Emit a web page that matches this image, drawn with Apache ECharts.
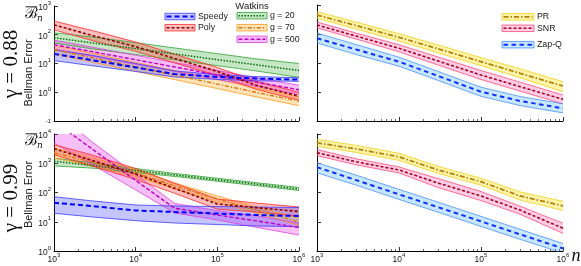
<!DOCTYPE html>
<html><head><meta charset="utf-8">
<script src="https://cdn.jsdelivr.net/npm/echarts@6/dist/echarts.min.js"></script>
<style>html,body{margin:0;padding:0;background:#fff}#c{width:581px;height:266px}</style>
</head><body><div id="c"></div>
<script>
// sample sizes n
const N = [1000, 3000, 10000, 30000, 100000, 300000, 1000000];
const xMinorTicks = [2e3,3e3,4e3,5e3,6e3,7e3,8e3,9e3,2e4,3e4,4e4,5e4,6e4,7e4,8e4,9e4,2e5,3e5,4e5,5e5,6e5,7e5,8e5,9e5];
const rowLabels = ['γ = 0.88', 'γ = 0.99'];
const yTitle = 'Bellman Error';

// gamma = 0.88, left panel
const tlSpeedyMean = [21.6, 12.9, 7.3, 4.3, 3.4, 3.0, 2.74];
const tlSpeedyLo   = [12.6, 8.3, 5.3, 3.4, 2.8, 2.5, 2.4];
const tlSpeedyHi   = [30, 19, 10, 5.5, 4.1, 3.5, 3.2];
const tlPolyMean = [221, 92.5, 38.6, 14.9, 5.3, 1.74, 0.73];
const tlPolyLo   = [148, 62, 26.5, 10.5, 3.8, 1.26, 0.53];
const tlPolyHi   = [300, 138, 56, 21, 7.3, 2.4, 1.0];
const tlG20Mean = [78.8, 51.8, 32.9, 21.6, 13.6, 9.0, 5.7];
const tlG20Lo   = [52, 32, 20.5, 13.4, 8.4, 5.5, 3.3];
const tlG20Hi   = [117, 83, 53, 34.8, 22, 14.5, 10];
const tlG70Mean = [30.4, 15.7, 7.6, 3.95, 1.92, 0.99, 0.49];
const tlG70Lo   = [21.3, 11, 5.3, 2.76, 1.34, 0.69, 0.34];
const tlG70Hi   = [43.5, 22.4, 10.9, 5.65, 2.75, 1.42, 0.70];
const tlG500Mean = [45.2, 25.5, 13.5, 7.6, 4.0, 2.26, 1.22];
const tlG500Lo   = [31.6, 17.8, 9.4, 5.3, 2.8, 1.58, 0.85];
const tlG500Hi   = [64.6, 36.5, 19.3, 10.9, 5.7, 3.2, 1.75];

// gamma = 0.88, right panel
const trPRMean = [452, 195, 77, 30.6, 11.1, 4.4, 1.61];
const trPRLo   = [348, 148, 58, 22.3, 8.1, 3.1, 1.02];
const trPRHi   = [590, 257, 102, 42, 15.3, 6.3, 2.27];
const trSNRMean = [205, 84.7, 32.1, 11.7, 3.86, 1.53, 0.56];
const trSNRLo   = [162, 66.7, 24.3, 8.5, 2.7, 1.07, 0.39];
const trSNRHi   = [258, 107.6, 42.4, 16.1, 5.5, 2.19, 0.79];
const trZapMean = [71, 29.2, 11.1, 3.56, 1.02, 0.49, 0.274];
const trZapLo   = [49, 19.6, 7.76, 2.5, 0.71, 0.34, 0.19];
const trZapHi   = [107, 43.4, 15.9, 5.1, 1.46, 0.70, 0.39];

// gamma = 0.99, left panel
const blSpeedyMean = [44.8, 34, 24.3, 21.5, 19.1, 17, 15.7];
const blSpeedyLo   = [19.5, 14.5, 10.9, 9.06, 8.05, 7.16, 6.78];
const blSpeedyHi   = [71.8, 51.2, 37.4, 34.5, 33.2, 31.9, 30.7];
const blPolyMean = [3140, 1220, 428, 139, 40.5, 30.5, 22.4];
const blPolyLo   = [1950, 790, 278, 94, 27, 21.4, 15.7];
const blPolyHi   = [4300, 1880, 660, 206, 60, 43.5, 32];
const blG20Mean = [1170, 830, 565, 399, 273, 193, 132];
const blG20Lo   = [810, 680, 483, 354, 242, 171, 117];
const blG20Hi   = [1500, 1010, 661, 449, 307, 217, 149];
const blG70Mean = [2240, 1100, 464, 169, 60, 25.2, 9.8];
const blG70Lo   = [1510, 803, 352, 133, 47.4, 19.9, 7.4];
const blG70Hi   = [3320, 1507, 611, 214, 76, 31.9, 12.9];
const blG500Mean = [27000, 2940, 258, 29, 17, 10.7, 6.3];
const blG500Lo   = [4900, 870, 123, 20, 11.5, 6.5, 3.5];
const blG500Hi   = [60000, 5100, 420, 42, 24, 16, 9];

// gamma = 0.99, right panel
const brPRMean = [5000, 3100, 1660, 590, 234, 76, 35];
const brPRLo   = [3800, 2350, 1260, 450, 178, 55, 24.5];
const brPRHi   = [6600, 4080, 2190, 780, 308, 105, 50];
const brSNRMean = [2300, 1120, 590, 210, 76, 25, 6.0];
const brSNRLo   = [1820, 885, 466, 147, 53, 18, 4.0];
const brSNRHi   = [2910, 1420, 747, 300, 108, 34, 8.9];
const brZapMean = [730, 265, 86, 31.4, 10.3, 3.7, 1.23];
const brZapLo   = [470, 179, 58, 21.2, 6.9, 2.5, 0.85];
const brZapHi   = [1050, 393, 128, 46.6, 15.3, 5.5, 1.8];

const FONT = 'Liberation Sans';
const TXT = '#1a1a1a';
const ST = {
  speedy: {fill:'rgba(40,40,255,0.27)', edge:'#3c3cff', mean:'#0000ff', w:2, dash:[5,3]},
  poly:   {fill:'rgba(255,40,40,0.30)', edge:'#ff2a2a', mean:'#8b0000', w:1.6, dash:[3,2]},
  g20:    {fill:'rgba(40,165,40,0.27)', edge:'#33a333', mean:'#0b6e0b', w:1.5, dash:[1.5,1.5]},
  g70:    {fill:'rgba(255,150,0,0.27)', edge:'#ff9a1a', mean:'#d97800', w:1.4, dash:[4,2,1.2,2]},
  g500:   {fill:'rgba(225,0,225,0.25)', edge:'#e040e0', mean:'#c000c0', w:1.4, dash:[4,2]},
  pr:     {fill:'rgba(255,228,40,0.40)', edge:'#f0d020', mean:'#b38209', w:1.8, dash:[5,2,1.5,2]},
  snr:    {fill:'rgba(255,90,175,0.30)', edge:'#ff4d7a', mean:'#a8001a', w:1.6, dash:[3,2]},
  zap:    {fill:'rgba(70,175,255,0.30)', edge:'#4d8fff', mean:'#1030ff', w:2, dash:[4.5,3.5]}
};

const grids = [
  {left:54, top:5, width:245, height:116},
  {left:317, top:5, width:246, height:116},
  {left:54, top:134, width:245, height:117},
  {left:317, top:134, width:246, height:117}
];
const yRanges = [[0.1,1000],[0.1,1000],[1,10000],[1,10000]];

const rich = {
  b: {fontSize:8.5, fontFamily:FONT, color:TXT, lineHeight:12, verticalAlign:'bottom'},
  s: {fontSize:6, fontFamily:FONT, color:TXT, lineHeight:6, verticalAlign:'top'}
};
function powLabel(v){
  const e = Math.round(Math.log10(v));
  if (e === -1) return '{s|-1}';
  return '{b|10}{s|' + e + '}';
}

const xAxis = [], yAxis = [];
for (let i = 0; i < 4; i++) {
  xAxis.push({
    type:'log', logBase:10, gridIndex:i, position:'bottom', min:1000, max:1000000,
    axisLine:{show:true, lineStyle:{color:'#000', width:1}},
    axisTick:{show:true, inside:true, length:4, lineStyle:{color:'#000', width:0.8}},
    axisLabel:{show: i >= 2, margin:1, formatter: powLabel, rich: rich},
    splitLine:{show:false}
  });
}
for (let i = 0; i < 4; i++) {
  xAxis.push({
    type:'log', logBase:10, gridIndex:i, position:'bottom', offset:0, min:1000, max:1000000,
    axisLine:{show:false},
    axisTick:{show:true, inside:true, length:2, customValues: xMinorTicks, lineStyle:{color:'#000', width:0.6}},
    axisLabel:{show:false},
    splitLine:{show:false}
  });
}
for (let i = 0; i < 4; i++) {
  yAxis.push({
    type:'log', logBase:10, gridIndex:i, position:'left', min:yRanges[i][0], max:yRanges[i][1],
    axisLine:{show:true, lineStyle:{color:'#000', width:1}},
    axisTick:{show:true, inside:true, length:4, lineStyle:{color:'#000', width:0.8}},
    axisLabel:{show: i % 2 === 0, margin:3, formatter: powLabel, rich: rich},
    splitLine:{show:false}
  });
}

const series = [];
function addSet(g, mean, lo, hi, st) {
  series.push({
    type:'custom', xAxisIndex:g, yAxisIndex:g, clip:true, z:1, silent:true,
    data: N.map((n,i)=>[n, lo[i], hi[i]]),
    renderItem: function(p, api){
      if (p.dataIndex !== 0) return null;
      const up = N.map((n,i)=>api.coord([n, hi[i]]));
      const dn = N.map((n,i)=>api.coord([n, lo[i]])).reverse();
      return {type:'polygon', shape:{points: up.concat(dn)}, style:{fill: st.fill}};
    }
  });
  [lo, hi].forEach(arr => series.push({
    type:'line', xAxisIndex:g, yAxisIndex:g, z:2, silent:true, symbol:'none', clip:true,
    data: N.map((n,i)=>[n, arr[i]]),
    lineStyle:{color: st.edge, width:0.8}
  }));
  series.push({
    type:'line', xAxisIndex:g, yAxisIndex:g, z:3, silent:true, symbol:'none', clip:true,
    data: N.map((n,i)=>[n, mean[i]]),
    lineStyle:{color: st.mean, width: st.w, type: st.dash}
  });
}
addSet(0, tlG20Mean, tlG20Lo, tlG20Hi, ST.g20);
addSet(0, tlG70Mean, tlG70Lo, tlG70Hi, ST.g70);
addSet(0, tlG500Mean, tlG500Lo, tlG500Hi, ST.g500);
addSet(0, tlPolyMean, tlPolyLo, tlPolyHi, ST.poly);
addSet(0, tlSpeedyMean, tlSpeedyLo, tlSpeedyHi, ST.speedy);
addSet(1, trPRMean, trPRLo, trPRHi, ST.pr);
addSet(1, trSNRMean, trSNRLo, trSNRHi, ST.snr);
addSet(1, trZapMean, trZapLo, trZapHi, ST.zap);
addSet(2, blG20Mean, blG20Lo, blG20Hi, ST.g20);
addSet(2, blG70Mean, blG70Lo, blG70Hi, ST.g70);
addSet(2, blG500Mean, blG500Lo, blG500Hi, ST.g500);
addSet(2, blPolyMean, blPolyLo, blPolyHi, ST.poly);
addSet(2, blSpeedyMean, blSpeedyLo, blSpeedyHi, ST.speedy);
addSet(3, brPRMean, brPRLo, brPRHi, ST.pr);
addSet(3, brSNRMean, brSNRLo, brSNRHi, ST.snr);
addSet(3, brZapMean, brZapLo, brZapHi, ST.zap);

function legendItem(x, yc, st, label, w) {
  return [
    {type:'rect', shape:{x:x, y:yc-3.25, width:w, height:6.5}, style:{fill:st.fill, stroke:st.edge, lineWidth:0.8}, z:10},
    {type:'line', shape:{x1:x+1.5, y1:yc, x2:x+w-1.5, y2:yc}, style:{stroke:st.mean, lineWidth:st.w, lineDash:st.dash}, z:11},
    {type:'text', x:x+w+3, y:yc, style:{text:label, font:'8.8px "Liberation Sans"', fill:TXT, textAlign:'left', textVerticalAlign:'middle'}, z:11}
  ];
}
function mathB(yOff) {
  return [
    {type:'text', x:31, y:14.5+yOff, style:{text:'ℬ', font:'15px "DejaVu Serif"', fill:'#111', textAlign:'center', textVerticalAlign:'middle'}},
    {type:'text', x:40, y:18.5+yOff, style:{text:'n', font:'italic 9px "DejaVu Serif"', fill:'#111', textAlign:'center', textVerticalAlign:'middle'}},
    {type:'line', shape:{x1:25.5, y1:6.8+yOff, x2:37, y2:6.8+yOff}, style:{stroke:'#111', lineWidth:0.9}}
  ];
}

const graphic = [].concat(
  [{type:'text', x:252, y:6.5, style:{text:'Watkins', font:'9.5px "Liberation Sans"', fill:TXT, textAlign:'center', textVerticalAlign:'middle'}}],
  legendItem(165, 16.5, ST.speedy, 'Speedy', 30),
  legendItem(165, 27.7, ST.poly, 'Poly', 30),
  legendItem(237, 15.7, ST.g20, 'g = 20', 30),
  legendItem(237, 27.7, ST.g70, 'g = 70', 30),
  legendItem(237, 39.3, ST.g500, 'g = 500', 30),
  legendItem(502, 16.8, ST.pr, 'PR', 32),
  legendItem(502, 28.3, ST.snr, 'SNR', 32),
  legendItem(502, 44.7, ST.zap, 'Zap-Q', 32),
  mathB(0), mathB(127),
  [
    {type:'text', x:11, y:64, rotation:Math.PI/2, style:{text:rowLabels[0], font:'21px "Liberation Serif"', fill:'#111', textAlign:'center', textVerticalAlign:'middle'}},
    {type:'text', x:11, y:198, rotation:Math.PI/2, style:{text:rowLabels[1], font:'21px "Liberation Serif"', fill:'#111', textAlign:'center', textVerticalAlign:'middle'}},
    {type:'text', x:29, y:73, rotation:Math.PI/2, style:{text:yTitle, font:'11px "Liberation Sans"', fill:TXT, textAlign:'center', textVerticalAlign:'middle'}},
    {type:'text', x:29, y:194.5, rotation:Math.PI/2, style:{text:yTitle, font:'11px "Liberation Sans"', fill:TXT, textAlign:'center', textVerticalAlign:'middle'}},
    {type:'text', x:576, y:256, style:{text:'n', font:'italic 18px "Liberation Serif"', fill:'#111', textAlign:'center', textVerticalAlign:'middle'}}
  ]
);

const chart = echarts.init(document.getElementById('c'), null, {renderer:'canvas'});
chart.setOption({
  animation:false,
  backgroundColor:'#fff',
  grid: grids,
  xAxis: xAxis,
  yAxis: yAxis,
  series: series,
  graphic: graphic
});
</script>
</body></html>
